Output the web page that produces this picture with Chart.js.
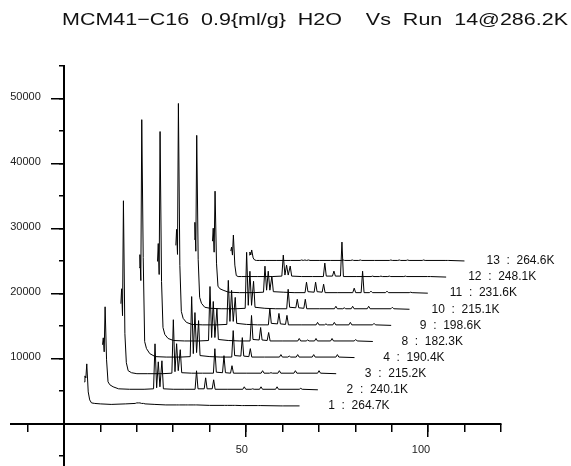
<!DOCTYPE html>
<html>
<head>
<meta charset="utf-8">
<script src="https://cdn.jsdelivr.net/npm/chart.js@4.4.1/dist/chart.umd.min.js"></script>
<style>
  html, body { margin: 0; padding: 0; background: #fff; }
  #wrap { width: 571px; height: 466px; }
</style>
</head>
<body>
<div id="wrap"><canvas id="waterfall" width="571" height="466"></canvas></div>
<script>
// runs, stacked bottom to top
var runNames = ['1', '2', '3', '4', '8', '9', '10', '11', '12', '13'];
var runTemps = ['264.7K', '240.1K', '215.2K', '190.4K', '182.3K', '198.6K', '215.1K', '231.6K', '248.1K', '264.6K'];

// 2theta grid of the bottom run
var twoTheta = [5.6, 5.8, 6.05, 6.3, 6.7, 7.1, 7.6, 8.5, 10.0, 13.0, 17.0, 19.6, 20.0, 20.45, 20.9, 21.35, 21.9, 22.3,
  25.0, 28.0, 31.0, 31.4, 31.8, 33.5, 33.9, 34.3, 35.7, 36.1, 36.5, 40.0, 44.1, 44.5, 44.9, 46.4, 46.8, 47.2,
  48.7, 49.1, 49.5, 53.1, 53.5, 53.9, 59.6, 60.0, 60.4, 64.7];

// waterfall shift from one run to the next
var xStep = 5.03;
var yStep = 2476;

var run1 = [6430, 7350, 7040, 9200, 4890, 3660, 3200, 3120, 3050, 2970, 3050, 3120, 3200, 3200, 3200, 3120, 3120, 3050,
  2970, 2890, 2890, 2890, 2890, 2890, 2890, 2890, 2890, 2890, 2890, 2820, 2820, 2820, 2820, 2820, 2820, 2820,
  2790, 2790, 2790, 2790, 2790, 2790, 2740, 2740, 2740, 2740];
var run2 = [9660, 10730, 8580, 15500, 7350, 3970, 3510, 3200, 2890, 2820, 2820, 2890, 9810, 3050, 7040, 3200, 7200, 2890,
  2820, 2820, 2820, 5660, 2890, 2890, 4580, 2890, 2890, 4280, 2820, 2820, 2820, 3200, 2820, 2820, 2890, 2820,
  2820, 3200, 2820, 2820, 3200, 2820, 2820, 2970, 2820, 2740];
var run3 = [13500, 15800, 11660, 29330, 8890, 4430, 3200, 2890, 2740, 2740, 2740, 2820, 11040, 3050, 7350, 3200, 6430, 2890,
  2820, 2820, 2820, 6580, 2970, 2890, 5510, 2890, 2820, 3970, 2820, 2820, 2820, 3200, 2820, 2820, 2890, 2820,
  2820, 3200, 2820, 2820, 3200, 2820, 2820, 3200, 2820, 2740];
var run4 = [16570, 18570, 14580, 39320, 18110, 5200, 4120, 3350, 2890, 2820, 2820, 2890, 12120, 3350, 9660, 3510, 8430, 3050,
  2890, 2820, 2820, 6890, 3050, 2970, 5810, 2970, 2890, 4120, 2820, 2820, 2820, 3200, 2820, 2820, 2970, 2820,
  2820, 3200, 2820, 2820, 3200, 2820, 2820, 3200, 2820, 2740];
var run8 = [15040, 17800, 13040, 35020, 11960, 4890, 3820, 3200, 2890, 2820, 2820, 2890, 11190, 3350, 8890, 3350, 7810, 3050,
  2890, 2820, 2820, 6740, 3050, 2970, 4890, 2970, 2890, 4120, 2820, 2820, 2820, 3200, 2820, 2820, 2970, 2820,
  2820, 3200, 2820, 2820, 3200, 2820, 2820, 3050, 2820, 2740];
var run9 = [15040, 17500, 13650, 36860, 11960, 4890, 3820, 3200, 2890, 2820, 2820, 2890, 9660, 3350, 8120, 3350, 7040, 3050,
  2890, 2820, 2820, 5350, 3050, 2970, 4580, 2970, 2890, 4280, 2820, 2820, 2820, 3200, 2820, 2820, 2970, 2820,
  2820, 3200, 2820, 2820, 3200, 2820, 2820, 3050, 2820, 2740];
var run10 = [13500, 16110, 11660, 29480, 10430, 4580, 3660, 3050, 2890, 2820, 2820, 2890, 11500, 3350, 8580, 3350, 7040, 3050,
  2890, 2820, 2820, 5810, 3050, 2970, 4280, 2970, 2890, 4280, 2820, 2820, 2820, 3200, 2820, 2820, 2970, 2820,
  2820, 3200, 2820, 2820, 3200, 2820, 2820, 3050, 2820, 2740];
var run11 = [10730, 12730, 9040, 18420, 7350, 3820, 3430, 3200, 2890, 2820, 2820, 2890, 6890, 3200, 6120, 3200, 5350, 2970,
  2890, 2820, 2820, 4430, 2970, 2890, 4430, 2970, 2890, 4120, 2820, 2820, 2820, 3510, 2820, 2820, 6120, 2820,
  2820, 3050, 2820, 2820, 3050, 2820, 2820, 2890, 2820, 2740];
var run12 = [6740, 7350, 6120, 9200, 4580, 2970, 2820, 2820, 2820, 2820, 2820, 2890, 6120, 3050, 4580, 3050, 4430, 2890,
  2820, 2820, 2820, 4890, 2890, 2890, 3660, 2890, 2890, 8120, 2820, 2820, 2820, 2890, 2820, 2820, 2890, 2820,
  2820, 2890, 2820, 2820, 2890, 2820, 2820, 2820, 2820, 2740];
var run13 = [3660, 4120, 3660, 4430, 3200, 2890, 2820, 2820, 2820, 2820, 2820, 2820, 2890, 2820, 2890, 2820, 2890, 2820,
  2820, 2820, 2820, 2890, 2820, 2820, 2890, 2820, 2820, 2890, 2820, 2820, 2820, 2890, 2820, 2820, 2890, 2820,
  2820, 2890, 2820, 2820, 2890, 2820, 2820, 2820, 2820, 2740];

var runCounts = [run1, run2, run3, run4, run8, run9, run10, run11, run12, run13];

// axis ticks
var xMajorTicks = [0, 50, 100];
var xMinorTicks = [-10, 0, 10, 20, 30, 40, 50, 60, 70, 80, 90, 100, 110, 120];
var yMajorTicks = [0, 10000, 20000, 30000, 40000, 50000];
var yMinorTicks = [-5000, 0, 5000, 10000, 15000, 20000, 25000, 30000, 35000, 40000, 45000, 50000, 55000];

var titleText = 'MCM41\u2212C16  0.9{ml/g}  H2O    Vs  Run  14@286.2K';
var fontFamily = '"Liberation Sans", Arial, Helvetica, sans-serif';

var datasets = runCounts.map(function(counts, k) {
  return {
    label: runNames[k],
    data: counts.map(function(c, i) {
      return {x: twoTheta[i] + k * xStep, y: c + k * yStep};
    }),
    borderColor: '#000',
    borderWidth: 1,
    pointRadius: 0,
    pointHoverRadius: 0,
    fill: false,
    tension: 0
  };
});

function setTicks(values) {
  return function(scale) {
    scale.ticks = values.map(function(v) { return {value: v}; });
  };
}

function noPad(scale) {
  scale.paddingLeft = 0;
  scale.paddingRight = 0;
  scale.paddingTop = 0;
  scale.paddingBottom = 0;
}

// "n : temperature" after the end of each run
var runLabels = {
  id: 'runLabels',
  afterDatasetsDraw: function(chart) {
    var ctx = chart.ctx;
    ctx.save();
    ctx.font = '12px ' + fontFamily;
    ctx.fillStyle = '#111';
    ctx.textBaseline = 'middle';
    var digit = ctx.measureText('0').width;
    chart.data.datasets.forEach(function(ds, i) {
      var pts = chart.getDatasetMeta(i).data;
      var last = pts[pts.length - 1];
      var x = last.x + 22 + (runNames[i].length < 2 ? digit : 0);
      ctx.fillText(runNames[i] + '  :  ' + runTemps[i], x, last.y);
    });
    ctx.restore();
  }
};

// y labels sit left of the crossing axis
var yLabels = {
  id: 'yLabels',
  afterDraw: function(chart) {
    var ctx = chart.ctx;
    var xs = chart.scales.x, ys = chart.scales.y;
    var x0 = xs.getPixelForValue(0) - 23;
    ctx.save();
    ctx.font = '11px ' + fontFamily;
    ctx.fillStyle = '#222';
    ctx.textAlign = 'right';
    ctx.textBaseline = 'middle';
    yMajorTicks.forEach(function(v) {
      if (v > 0) ctx.fillText(String(v), x0, ys.getPixelForValue(v) - 1.5);
    });
    ctx.restore();
  }
};

var topTitle = {
  id: 'topTitle',
  afterDraw: function(chart) {
    var ctx = chart.ctx;
    ctx.save();
    ctx.font = '17px ' + fontFamily;
    ctx.fillStyle = '#111';
    ctx.textBaseline = 'middle';
    ctx.textAlign = 'right';
    var w = ctx.measureText(titleText).width;
    ctx.translate(568, 20);
    ctx.scale(506 / w, 1);
    ctx.fillText(titleText, 0, 0);
    ctx.restore();
  }
};

var tickFont = {family: fontFamily, size: 11};

new Chart(document.getElementById('waterfall'), {
  type: 'line',
  data: {datasets: datasets},
  options: {
    responsive: false,
    animation: false,
    events: [],
    layout: {autoPadding: false, padding: {left: 11, right: 70, top: 66, bottom: 0}},
    plugins: {legend: {display: false}, tooltip: {enabled: false}, title: {display: false}},
    scales: {
      x: {
        type: 'linear', min: -14.5, max: 120, position: {y: 0},
        border: {color: '#000', width: 2},
        grid: {drawOnChartArea: false, tickLength: 12, color: '#000', lineWidth: 1.5},
        ticks: {
          autoSkip: false, maxRotation: 0,
          padding: 8, align: 'end', labelOffset: 2, color: '#222', font: tickFont,
          callback: function(v) { return v > 0 ? String(v) : ''; }
        },
        afterBuildTicks: setTicks(xMajorTicks),
        afterFit: noPad
      },
      x2: {
        type: 'linear', axis: 'x', min: -14.5, max: 120, position: {y: 0},
        border: {display: false},
        grid: {drawOnChartArea: false, tickLength: 8, color: '#000', lineWidth: 1.5},
        ticks: {autoSkip: false, display: false},
        afterBuildTicks: setTicks(xMinorTicks),
        afterFit: noPad
      },
      y: {
        type: 'linear', min: -6500, max: 55000, position: {x: 0},
        border: {color: '#000', width: 2},
        grid: {drawOnChartArea: false, tickLength: 12, color: '#000', lineWidth: 1.5},
        ticks: {autoSkip: false, display: false},
        afterBuildTicks: setTicks(yMajorTicks),
        afterFit: noPad
      },
      y2: {
        type: 'linear', axis: 'y', min: -6500, max: 55000, position: {x: 0},
        border: {display: false},
        grid: {drawOnChartArea: false, tickLength: 5, color: '#000', lineWidth: 1.5},
        ticks: {autoSkip: false, display: false},
        afterBuildTicks: setTicks(yMinorTicks),
        afterFit: noPad
      }
    }
  },
  plugins: [runLabels, yLabels, topTitle]
});
</script>
</body>
</html>
